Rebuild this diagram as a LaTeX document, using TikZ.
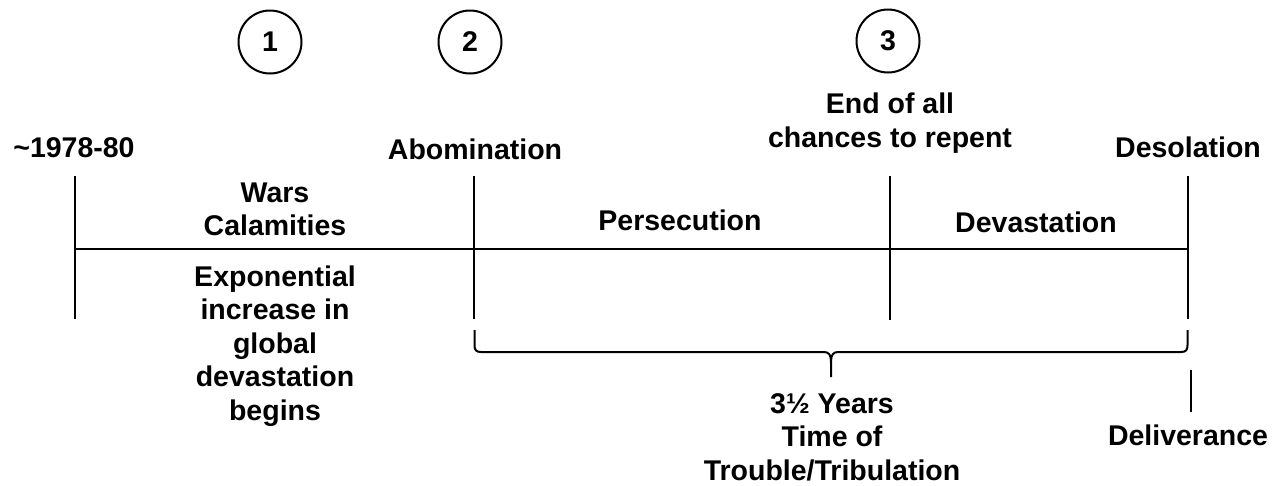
\documentclass[tikz,border=0pt]{standalone}
\usepackage{fontspec}
\setmainfont{Liberation Sans}
\begin{document}
\begin{tikzpicture}[x=1pt,y=-1pt,line width=2pt,
  lbl/.style={font=\fontsize{28.5}{33.5}\selectfont\bfseries,inner sep=0pt,align=center},
  num/.style={draw,circle,minimum size=63pt,inner sep=0pt,line width=2pt,
    font=\fontsize{28.5}{33.5}\selectfont\bfseries},
  tick/.style={line width=2pt}]
\useasboundingbox (0,0) rectangle (1281,485);
% numbered circles
\node[num] (c1) at (270,42) {1};
\node[num] (c2) at (470,42) {2};
\node[num] (c3) at (888,41) {3};
% top labels
\node[lbl,anchor=base] (t0) at (74,157) {\symbol{"7E}1978-80};
\node[lbl,anchor=base] (t1) at (475,159) {Abomination};
\node[lbl,anchor=north] (t2) at (890,92) {End of all\\chances to repent};
\node[lbl,anchor=base] (t3) at (1188,157) {Desolation};
% timeline
\coordinate (a0) at (75,176);  \coordinate (b0) at (75,319);
\coordinate (a1) at (474,176); \coordinate (b1) at (474,319);
\coordinate (a2) at (890,176); \coordinate (b2) at (890,320);
\coordinate (a3) at (1188,176);\coordinate (b3) at (1188,319);
\coordinate (h0) at (75,249);  \coordinate (h1) at (1188,249);
\draw[tick] (a0) -- (b0);
\draw[tick] (a1) -- (b1);
\draw[tick] (a2) -- (b2);
\draw[tick] (a3) -- (b3);
\draw[tick] (h0) -- (h1);
% segment labels
\node[lbl,anchor=north] (wars) at (275,181.5) {Wars\\Calamities};
\node[lbl,anchor=north] (expo) at (275,264.5) {Exponential\\increase in\\global\\devastation\\begins};
\node[lbl,anchor=base] (pers) at (680,230) {Persecution};
\node[lbl,anchor=base] (deva) at (1036,232) {Devastation};
% brace
\coordinate (bl) at (474.5,330);
\coordinate (br) at (1187.5,330);
\coordinate (bt) at (831,377);
\draw[tick,line join=round] (bl) -- (474.5,345) .. controls (474.5,350) and (476,352) .. (481,352)
  -- (824,352) .. controls (829,352) and (831,355) .. (831,362) -- (bt);
\draw[tick,line join=round] (br) -- (1187.5,345) .. controls (1187.5,350) and (1186,352) .. (1181,352)
  -- (838,352) .. controls (833,352) and (831,355) .. (831,362);
\node[lbl,anchor=north] (years) at (832,392.5) {3½ Years\\Time of\\Trouble/Tribulation};
% deliverance
\coordinate (d0) at (1190.5,370);
\coordinate (d1) at (1190.5,412);
\draw[tick] (d0) -- (d1);
\node[lbl,anchor=base] (deli) at (1188,445) {Deliverance};
\end{tikzpicture}
\end{document}
